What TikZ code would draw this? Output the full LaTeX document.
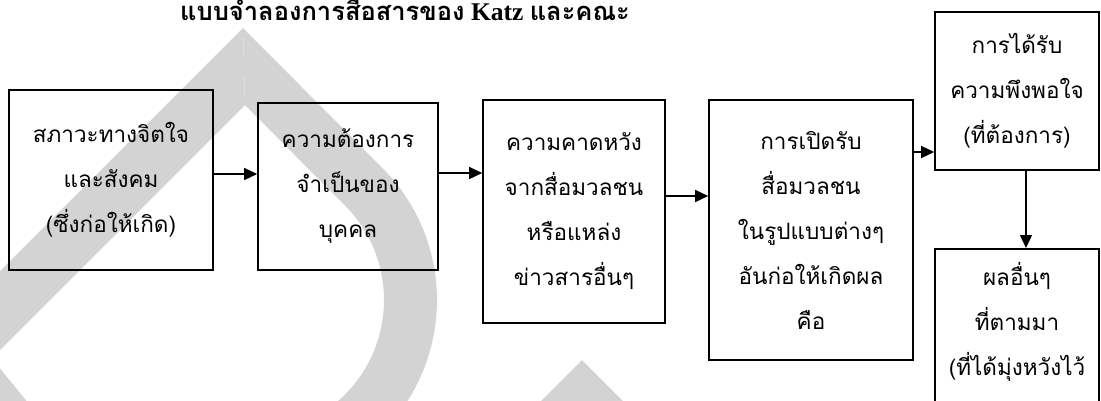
\documentclass[tikz,border=0pt]{standalone}
\usepackage{fontspec}
\setmainfont{Liberation Serif}
\newfontfamily\thaifont[Script=Thai]{Loma}
\usetikzlibrary{arrows.meta}
\definecolor{wmark}{HTML}{D3D3D3}
\tikzset{
	box/.style={draw, line width=1.6pt, align=center, inner sep=0pt,
		font=\thaifont\fontsize{22.5}{45}\selectfont},
	arr/.style={line width=1.4pt, -{Triangle[length=13pt,width=12pt]}}
}

\begin{document}
\begin{tikzpicture}[x=1pt, y=1pt]
	%\draw [help lines] (0,0) grid (1101,-400);
	\useasboundingbox (0,0) rectangle (1101,-400);
	% watermark
	\fill [wmark] (243,-28) -- (-100,-371) -- (-10,-360) -- (245,-105) -- cycle;
	\fill [wmark] (243,-28) -- (382.2,-167.8) arc[start angle=45, end angle=-110, radius=187]
		-- ([shift={(250,-300)}]-110:134) arc[start angle=-110, end angle=45, radius=134]
		-- (245,-105) -- cycle;
	\fill [wmark] (-10,-356) -- (50,-430) -- (-10,-430) -- cycle;
	\fill [wmark] (582,-360) -- (632,-410) -- (532,-410) -- cycle;
	% title
	\node (title) [anchor=base, font=\fontsize{25.5}{30}\selectfont\bfseries] at (405,-20)
		{{\thaifont แบบจำลองการสื่อสารของ} Katz {\thaifont และคณะ}};
	% boxes
	\node (box1) [box, minimum width=204, minimum height=180] at (111,-180)
		{สภาวะทางจิตใจ\\และสังคม\\(ซึ่งก่อให้เกิด)};
	\node (box2) [box, minimum width=180, minimum height=167] at (348,-186.5)
		{ความต้องการ\\จำเป็นของ\\บุคคล};
	\node (box3) [box, minimum width=182, minimum height=223] at (574,-211.5)
		{ความคาดหวัง\\จากสื่อมวลชน\\หรือแหล่ง\\ข่าวสารอื่นๆ};
	\node (box4) [box, minimum width=204, minimum height=260] at (811,-230)
		{การเปิดรับ\\สื่อมวลชน\\ในรูปแบบต่างๆ\\อันก่อให้เกิดผล\\คือ};
	\node (box5) [box, minimum width=164, minimum height=158] at (1017,-91)
		{การได้รับ\\ความพึงพอใจ\\(ที่ต้องการ)};
	\node (box6) [box, minimum width=164, minimum height=200, anchor=north] at (1017,-248) {};
	\node (txt6) [box, draw=none] at (1017,-322) {ผลอื่นๆ\\ที่ตามมา\\(ที่ได้มุ่งหวังไว้};
	% arrows
	\draw [arr] ([yshift=6]box1.east) -- ([yshift=6]box1.east -| box2.west);
	\draw [arr] ([yshift=13.5]box2.east) -- ([yshift=13.5]box2.east -| box3.west);
	\draw [arr] ([yshift=15.5]box3.east) -- ([yshift=15.5]box3.east -| box4.west);
	\draw [arr] ([yshift=78]box4.east) -- ([yshift=78]box4.east -| box5.west);
	\draw [arr] ([xshift=9]box5.south) -- ([xshift=9]box5.south |- box6.north);
\end{tikzpicture}
\end{document}
